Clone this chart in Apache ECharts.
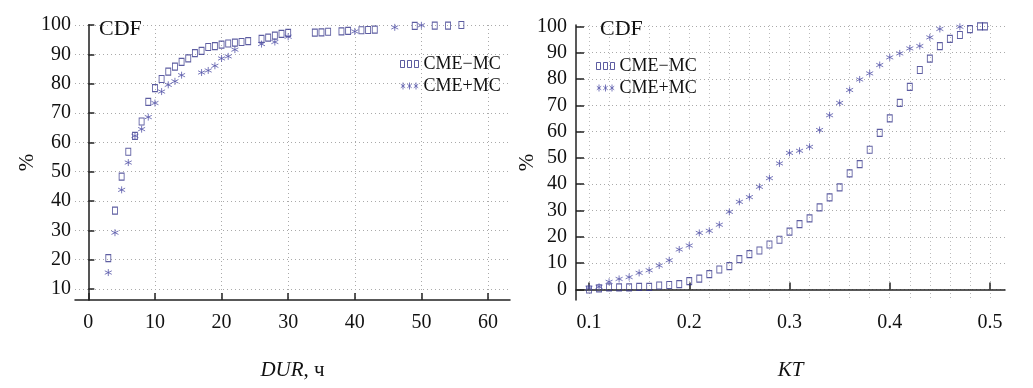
<!DOCTYPE html>
<html><head><meta charset="utf-8">
<script src="https://cdn.jsdelivr.net/npm/echarts@6/dist/echarts.min.js"></script>
<style>html,body{margin:0;padding:0;background:#fff}#c{width:1033px;height:388px}</style>
</head><body><div id="c"></div>
<script>
// ---- Left panel: DUR ----
const durMinusX = [3,4,5,6,7,8,9,10,11,12,13,14,15,16,17,18,19,20,21,22,23,24,26,27,28,29,30,34,35,36,38,39,41,42,43,49,52,54,56];
const durMinusY = [20.5,36.7,48.3,56.8,62.2,67.1,73.8,78.5,81.6,84.1,85.8,87.4,88.6,90.4,91.2,92.5,92.8,93.3,93.7,94.0,94.2,94.5,95.3,95.7,96.4,97.0,97.3,97.4,97.5,97.7,97.8,98.0,98.2,98.3,98.4,99.7,99.8,99.8,100];
const durPlusX = [3,4,5,6,7,8,9,10,11,12,13,14,17,18,19,20,21,22,26,28,30,40,46,50];
const durPlusY = [15.6,29.2,43.8,53.1,62.2,64.5,68.6,73.4,77.3,79.6,80.8,82.9,83.8,84.5,86.1,88.6,89.3,91.6,93.5,94.2,96.0,97.8,99.2,99.9];
// ---- Right panel: KT ----
const ktMinusX = [0.10,0.11,0.12,0.13,0.14,0.15,0.16,0.17,0.18,0.19,0.20,0.21,0.22,0.23,0.24,0.25,0.26,0.27,0.28,0.29,0.30,0.31,0.32,0.33,0.34,0.35,0.36,0.37,0.38,0.39,0.40,0.41,0.42,0.43,0.44,0.45,0.46,0.47,0.48,0.49,0.495];
const ktMinusY = [0,0.4,0.8,0.8,0.8,1.0,1.0,1.5,1.7,2.0,3.2,4.1,5.8,7.6,8.9,11.5,13.4,14.8,17.1,18.9,22.0,24.8,27.0,31.2,35.0,38.8,44.1,47.6,53.1,59.5,65.0,70.9,77.0,83.4,87.7,92.5,95.2,96.7,98.9,100,100];
const ktPlusX = [0.10,0.11,0.12,0.13,0.14,0.15,0.16,0.17,0.18,0.19,0.20,0.21,0.22,0.23,0.24,0.25,0.26,0.27,0.28,0.29,0.30,0.31,0.32,0.33,0.34,0.35,0.36,0.37,0.38,0.39,0.40,0.41,0.42,0.43,0.44,0.45,0.47];
const ktPlusY = [0.6,1.0,2.9,4.0,4.7,6.3,7.3,9.1,11.1,15.2,16.7,21.5,22.3,24.6,29.5,33.3,35.1,39.0,42.3,47.9,51.9,52.7,54.2,60.6,66.2,70.9,75.8,79.8,82.1,85.3,88.2,89.7,91.6,92.5,95.8,99.0,99.8];
// ---- Ticks / labels ----
const durTicks = [0,10,20,30,40,50,60];
const durPctTicks = [10,20,30,40,50,60,70,80,90,100];
const ktTicks = [0.1,0.2,0.3,0.4,0.5];
const ktMinorTicks = [0.1,0.12,0.14,0.16,0.18,0.2,0.22,0.24,0.26,0.28,0.3,0.32,0.34,0.36,0.38,0.4,0.42,0.44,0.46,0.48,0.5];
const ktPctTicks = [0,10,20,30,40,50,60,70,80,90,100];
const seriesNames = ['CME\u2212MC', 'CME+MC'];
const panelTitle = 'CDF';

const zip = (xs, ys) => xs.map((x, i) => [x, ys[i]]);
const FONT = 'Liberation Serif';
const C1 = '#35358a', C2 = '#5858aa';
const SQ = 'path://M0,0L4,0L4,6L0,6Z';
const ST = 'path://M5,0L5,10M0.67,2.5L9.33,7.5M0.67,7.5L9.33,2.5';
const SQ3 = 'path://M0,0h4v7h-4zM7,0h4v7h-4zM14,0h4v7h-4z';
const ST3 = 'path://M2.5,0V7M0.3,1.7L4.7,5.3M0.3,5.3L4.7,1.7M9,0V7M6.8,1.7L11.2,5.3M6.8,5.3L11.2,1.7M15.5,0V7M13.3,1.7L17.7,5.3M13.3,5.3L17.7,1.7';

const grid = { lineStyle: { color: '#aaa', type: [1, 3], width: 1 } };
const lbl = { color: '#111', fontFamily: FONT, fontSize: 20 };
const nameStyle = { color: '#111', fontFamily: FONT, fontSize: 21, rich: { i: { fontStyle: 'italic', fontFamily: FONT, fontSize: 21, color: '#111' } } };

function legendFor(left, top) {
  return {
    left: left, top: top, orient: 'vertical', itemWidth: 18, itemHeight: 7, itemGap: 4, itemTextGap: 4,
    selectedMode: false,
    textStyle: { color: '#111', fontFamily: FONT, fontSize: 18 },
    data: [
      { name: seriesNames[0], icon: SQ3, itemStyle: { color: 'none', borderColor: C1, borderWidth: 1 } },
      { name: seriesNames[1], icon: ST3, itemStyle: { color: 'none', borderColor: C2, borderWidth: 1 } }
    ]
  };
}

const option = {
  animation: false,
  backgroundColor: '#fff',
  title: [
    { text: panelTitle, left: 94, top: 13, textStyle: { color: '#111', fontFamily: FONT, fontSize: 22, fontWeight: 'normal' } },
    { text: panelTitle, left: 595, top: 13, textStyle: { color: '#111', fontFamily: FONT, fontSize: 22, fontWeight: 'normal' } }
  ],
  legend: [legendFor(393, 50), legendFor(589, 52)],
  grid: [
    { left: 75, right: 523, top: 25, bottom: 88 },
    { left: 576, right: 28, top: 25, bottom: 88 }
  ],
  xAxis: [
    { type: 'value', gridIndex: 0, min: -2, max: 63.3,
      name: '{i|DUR}, ч', nameLocation: 'middle', nameGap: 60, nameMoveOverlap: false, nameTextStyle: nameStyle,
      axisLine: { lineStyle: { color: '#222', width: 1.5 } },
      axisTick: { inside: true, length: 7, customValues: durTicks, lineStyle: { color: '#222', width: 1.5 } },
      axisLabel: { ...lbl, margin: 13, customValues: durTicks },
      splitLine: { show: true, ...grid } },
    { type: 'value', gridIndex: 1, min: 0.087, max: 0.515,
      name: '{i|KT}', nameLocation: 'middle', nameGap: 60, nameMoveOverlap: false, nameTextStyle: nameStyle,
      axisLine: { lineStyle: { color: '#222', width: 1.5 } },
      axisTick: { inside: true, length: 7, customValues: ktTicks, lineStyle: { color: '#222', width: 1.5 } },
      axisLabel: { ...lbl, margin: 13, customValues: ktTicks, formatter: v => v.toFixed(1) },
      splitLine: { show: false } },
    { type: 'value', gridIndex: 1, position: 'top', min: 0.087, max: 0.515,
      axisLine: { show: false }, axisTick: { show: false, customValues: ktMinorTicks },
      axisLabel: { show: false, customValues: ktMinorTicks },
      splitLine: { show: true, lineStyle: { color: '#bbb', type: [1, 3], width: 1 } } }
  ],
  yAxis: [
    { type: 'value', gridIndex: 0, min: 6.25, max: 100,
      name: '%', nameLocation: 'middle', nameGap: 37, nameRotate: 90, nameMoveOverlap: false, nameTextStyle: nameStyle,
      axisLine: { show: true, lineStyle: { color: '#555', width: 2 } },
      axisTick: { show: true, inside: true, length: 6, customValues: durPctTicks, lineStyle: { color: '#222', width: 1.5 } },
      axisLabel: { ...lbl, margin: 4, customValues: durPctTicks },
      splitLine: { show: true, ...grid } },
    { type: 'value', gridIndex: 1, min: -4, max: 100.5,
      name: '%', nameLocation: 'middle', nameGap: 38, nameRotate: 90, nameMoveOverlap: false, nameTextStyle: nameStyle,
      axisLine: { show: true, lineStyle: { color: '#222', width: 1.5 } },
      axisTick: { show: true, inside: true, length: 8, customValues: ktPctTicks, lineStyle: { color: '#222', width: 1.5 } },
      axisLabel: { ...lbl, margin: 9, customValues: ktPctTicks },
      splitLine: { show: true, ...grid } }
  ],
  series: [
    { name: seriesNames[0], type: 'scatter', xAxisIndex: 0, yAxisIndex: 0, data: zip(durMinusX, durMinusY),
      symbol: SQ, symbolSize: [5, 7], itemStyle: { color: 'none', borderColor: C1, borderWidth: 1 } },
    { name: seriesNames[1], type: 'scatter', xAxisIndex: 0, yAxisIndex: 0, data: zip(durPlusX, durPlusY),
      symbol: ST, symbolSize: 7, itemStyle: { color: 'none', borderColor: C2, borderWidth: 1 } },
    { name: seriesNames[0], type: 'scatter', xAxisIndex: 1, yAxisIndex: 1, data: zip(ktMinusX, ktMinusY),
      symbol: SQ, symbolSize: [5, 7], itemStyle: { color: 'none', borderColor: C1, borderWidth: 1 } },
    { name: seriesNames[1], type: 'scatter', xAxisIndex: 1, yAxisIndex: 1, data: zip(ktPlusX, ktPlusY),
      symbol: ST, symbolSize: 7, itemStyle: { color: 'none', borderColor: C2, borderWidth: 1 } }
  ]
};
const chart = echarts.init(document.getElementById('c'), null, { renderer: 'canvas' });
chart.setOption(option);
</script>
</body></html>
